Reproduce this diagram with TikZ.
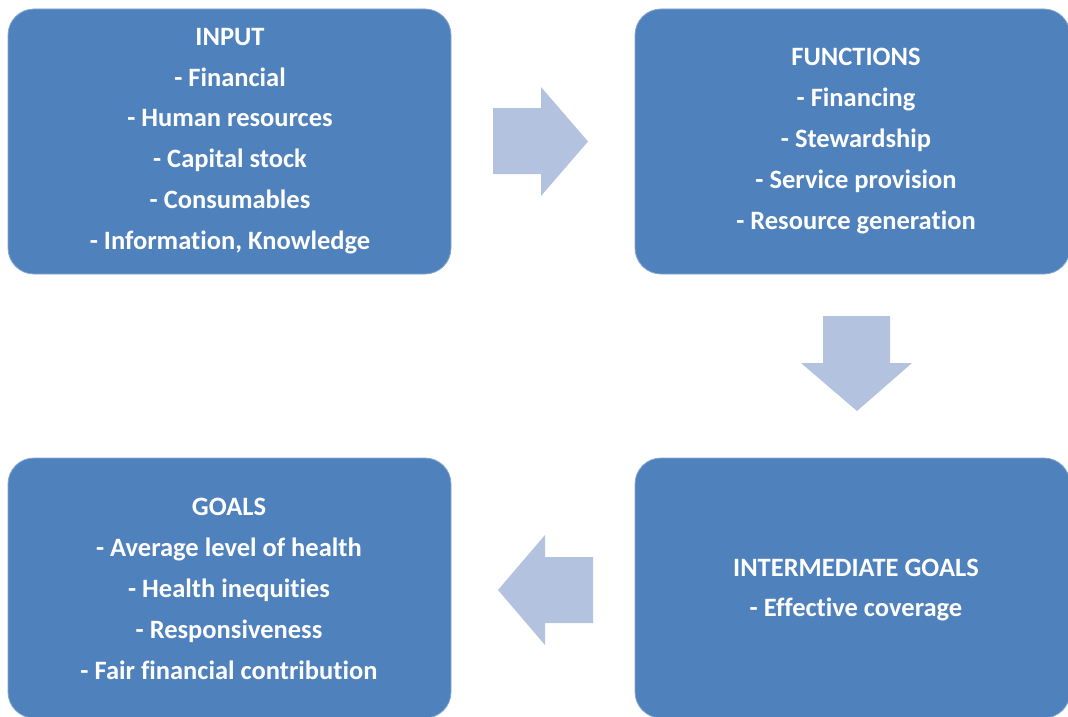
\documentclass[tikz,border=0pt]{standalone}
\usepackage{fontspec}
\setmainfont{Carlito}[Ligatures=NoCommon]
\definecolor{boxblue}{HTML}{4F81BD}
\definecolor{arrowblue}{HTML}{B3C2DE}
\begin{document}
\begin{tikzpicture}[x=1pt,y=-1pt,
  panel/.style={fill=boxblue, draw=boxblue!70!white, line width=0.8pt,
    rounded corners=26pt, inner sep=0pt},
  paneltext/.style={text=white, align=center, inner sep=0pt,
    font=\bfseries\fontsize{26.5}{40.8}\selectfont},
  blockarrow/.style={fill=arrowblue}]
\useasboundingbox (0,0) rectangle (1068,717);

% the four panels
\node[panel, minimum width=443pt, minimum height=265pt] (input) at (229.5,141.5) {};
\node[panel, minimum width=435pt, minimum height=265pt] (functions) at (852.5,141.5) {};
\node[panel, minimum width=435pt, minimum height=260pt] (intermediate) at (852.5,588) {};
\node[panel, minimum width=443pt, minimum height=260pt] (goals) at (229.5,588) {};

% panel texts
\node[paneltext] (inputtext) at (230,141) {INPUT\\- Financial\\- Human resources\\- Capital stock\\- Consumables\\- Information, Knowledge};
\node[paneltext] (functionstext) at (856,141) {FUNCTIONS\\- Financing\\- Stewardship\\- Service provision\\- Resource generation};
\node[paneltext] (intermediatetext) at (856,590) {INTERMEDIATE GOALS\\- Effective coverage};
\node[paneltext] (goalstext) at (229,589) {GOALS\\- Average level of health\\- Health inequities\\- Responsiveness\\- Fair financial contribution};

% block arrows between the panels
\fill[blockarrow] (493,108) -- (541,108) -- (541,87) -- (588,141.5) -- (541,196) -- (541,174) -- (493,174) -- cycle;
\fill[blockarrow] (823,316) -- (890,316) -- (890,363) -- (912,363) -- (857,411) -- (801,363) -- (823,363) -- cycle;
\fill[blockarrow] (593,557) -- (545,557) -- (545,535) -- (498,590) -- (545,645) -- (545,623) -- (593,623) -- cycle;
\end{tikzpicture}
\end{document}
